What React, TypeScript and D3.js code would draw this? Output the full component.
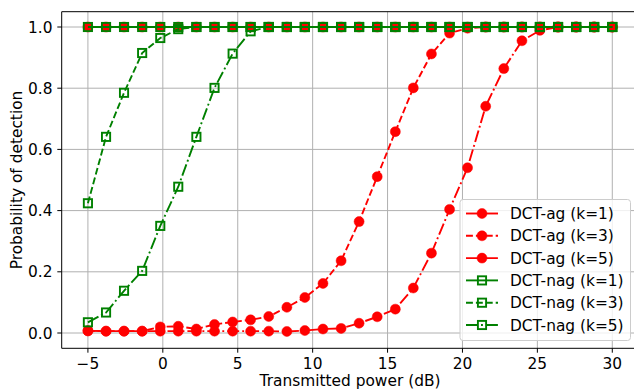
import React from "react";
import * as d3 from "d3";

const xValues = [-5, -3.79, -2.59, -1.38, -0.17, 1.03, 2.24, 3.45, 4.66, 5.86, 7.07, 8.28, 9.48, 10.69, 11.9, 13.1, 14.31, 15.52, 16.72, 17.93, 19.14, 20.34, 21.55, 22.76, 23.97, 25.17, 26.38, 27.59, 28.79, 30];

const agK1 = [1, 1, 1, 1, 1, 1, 1, 1, 1, 1, 1, 1, 1, 1, 1, 1, 1, 1, 1, 1, 1, 1, 1, 1, 1, 1, 1, 1, 1, 1];
const agK3 = [0.007, 0.006, 0.006, 0.006, 0.02, 0.022, 0.013, 0.028, 0.036, 0.043, 0.054, 0.084, 0.116, 0.162, 0.236, 0.364, 0.511, 0.658, 0.801, 0.912, 0.98, 0.996, 1, 1, 1, 1, 1, 1, 1, 1];
const agK5 = [0.007, 0.006, 0.006, 0.006, 0.006, 0.006, 0.006, 0.006, 0.006, 0.006, 0.006, 0.005, 0.008, 0.013, 0.015, 0.032, 0.053, 0.078, 0.147, 0.261, 0.404, 0.54, 0.741, 0.864, 0.955, 0.989, 1, 1, 1, 1];
const nagK1 = [1, 1, 1, 1, 1, 1, 1, 1, 1, 1, 1, 1, 1, 1, 1, 1, 1, 1, 1, 1, 1, 1, 1, 1, 1, 1, 1, 1, 1, 1];
const nagK3 = [0.424, 0.641, 0.785, 0.915, 0.964, 0.993, 1, 1, 1, 1, 1, 1, 1, 1, 1, 1, 1, 1, 1, 1, 1, 1, 1, 1, 1, 1, 1, 1, 1, 1];
const nagK5 = [0.035, 0.067, 0.138, 0.203, 0.35, 0.478, 0.641, 0.801, 0.913, 0.986, 1, 1, 1, 1, 1, 1, 1, 1, 1, 1, 1, 1, 1, 1, 1, 1, 1, 1, 1, 1];

const xTicks = [-5, 0, 5, 10, 15, 20, 25, 30];
const yTicks = [0, 0.2, 0.4, 0.6, 0.8, 1.0];
const yTickLabels = ["0.0", "0.2", "0.4", "0.6", "0.8", "1.0"];
const xTickLabels = ["\u22125", "0", "5", "10", "15", "20", "25", "30"];

const seriesLabels = ["DCT-ag (k=1)", "DCT-ag (k=3)", "DCT-ag (k=5)", "DCT-nag (k=1)", "DCT-nag (k=3)", "DCT-nag (k=5)"];

const RED = "#ff0000";
const GREEN = "#008000";
const DASHED = "6.9 3";
const DASHDOT = "12 3 1.9 3";

const series = [
  { values: agK1, color: RED, dash: "none", marker: "circle" },
  { values: agK3, color: RED, dash: DASHED, marker: "circle" },
  { values: agK5, color: RED, dash: DASHDOT, marker: "circle" },
  { values: nagK1, color: GREEN, dash: "none", marker: "square" },
  { values: nagK3, color: GREEN, dash: DASHED, marker: "square" },
  { values: nagK5, color: GREEN, dash: DASHDOT, marker: "square" },
];

const W = 634;
const H = 392;
const L = 61.7, R = 638.5, T = 11.7, B = 348.3;
const FS = 15.4;

function Marker({ kind, cx, cy, color }: { kind: string; cx: number; cy: number; color: string }) {
  if (kind === "circle") return <circle cx={cx} cy={cy} r={5} fill={color} stroke={color} strokeWidth={0.5} />;
  const s = 8.2;
  return <rect x={cx - s / 2} y={cy - s / 2} width={s} height={s} fill="none" stroke={color} strokeWidth={1.9} />;
}

export default function App() {
  const x = d3.scaleLinear().domain([-6.75, 31.75]).range([L, R]);
  const y = d3.scaleLinear().domain([-0.05, 1.05]).range([B, T]);
  const line = d3.line<[number, number]>().x((d) => x(d[0])).y((d) => y(d[1]));

  const legX = 460, legY = 199.5, legW = 170.5, legH = 141;
  const rowY = (i: number) => 213.5 + i * 22.3;

  return (
    <svg width={W} height={H} style={{ position: "absolute", left: 0, top: 0, background: "#fff", fontFamily: "DejaVu Sans" }}>
      <rect x={0} y={0} width={W} height={H} fill="#fff" />
      <defs>
        <clipPath id="axclip">
          <rect x={L} y={T} width={R - L} height={B - T} />
        </clipPath>
      </defs>
      {xTicks.map((t) => (
        <line key={"gx" + t} x1={x(t)} x2={x(t)} y1={T} y2={B} stroke="#b0b0b0" strokeWidth={1} />
      ))}
      {yTicks.map((t) => (
        <line key={"gy" + t} x1={L} x2={R} y1={y(t)} y2={y(t)} stroke="#b0b0b0" strokeWidth={1} />
      ))}
      <g clipPath="url(#axclip)">
        {series.map((s, i) => {
          const pts: [number, number][] = xValues.map((xv, j) => [xv, s.values[j]]);
          return (
            <g key={"s" + i}>
              <path d={line(pts) || ""} fill="none" stroke={s.color} strokeWidth={1.9} strokeDasharray={s.dash} />
              {pts.map((p, j) => (
                <Marker key={j} kind={s.marker} cx={x(p[0])} cy={y(p[1])} color={s.color} />
              ))}
            </g>
          );
        })}
      </g>
      <line x1={L} x2={L} y1={T} y2={B} stroke="#000" strokeWidth={1} />
      <line x1={L} x2={R} y1={B} y2={B} stroke="#000" strokeWidth={1} />
      <line x1={L} x2={R} y1={T} y2={T} stroke="#000" strokeWidth={1} />
      <line x1={R} x2={R} y1={T} y2={B} stroke="#000" strokeWidth={1} />
      {xTicks.map((t, i) => (
        <g key={"tx" + t}>
          <line x1={x(t)} x2={x(t)} y1={B} y2={B + 4.4} stroke="#000" strokeWidth={1} />
          <text x={x(t)} y={368.5} textAnchor="middle" fontSize={FS} fill="#000">{xTickLabels[i]}</text>
        </g>
      ))}
      {yTicks.map((t, i) => (
        <g key={"ty" + t}>
          <line x1={L - 4.4} x2={L} y1={y(t)} y2={y(t)} stroke="#000" strokeWidth={1} />
          <text x={52.5} y={y(t) + 5.5} textAnchor="end" fontSize={FS} fill="#000">{yTickLabels[i]}</text>
        </g>
      ))}
      <text x={350} y={386} textAnchor="middle" fontSize={FS} fill="#000">Transmitted power (dB)</text>
      <text transform={`translate(22,180) rotate(-90)`} textAnchor="middle" fontSize={FS} fill="#000">Probability of detection</text>
      <rect x={legX} y={legY} width={legW} height={legH} rx={3} ry={3} fill="#fff" fillOpacity={0.8} stroke="#cccccc" strokeWidth={1} />
      {series.map((s, i) => (
        <g key={"lg" + i}>
          <line x1={466} x2={498} y1={rowY(i)} y2={rowY(i)} stroke={s.color} strokeWidth={1.9} strokeDasharray={s.dash} />
          <Marker kind={s.marker} cx={482} cy={rowY(i)} color={s.color} />
          <text x={510} y={rowY(i) + 5.5} fontSize={FS} fill="#000">{seriesLabels[i]}</text>
        </g>
      ))}
    </svg>
  );
}
